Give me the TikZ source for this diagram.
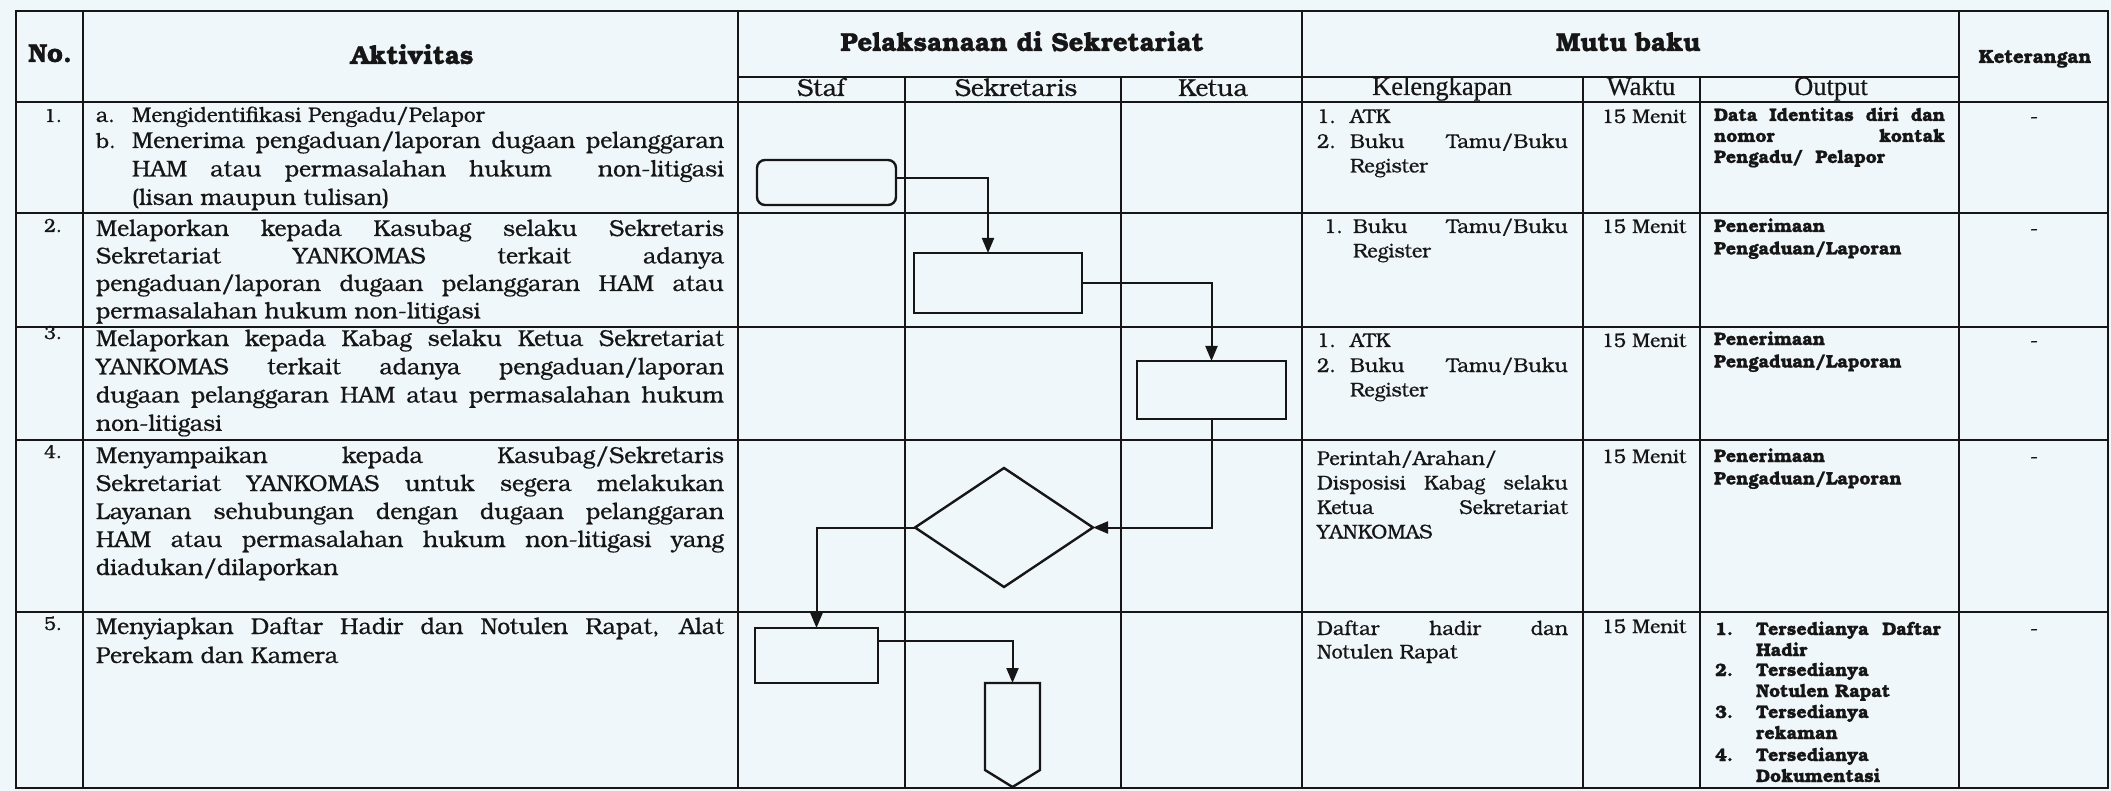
\documentclass[tikz,border=0pt]{standalone}
\usepackage{fontspec}
\setmainfont{texgyrebonum}[Extension=.otf,UprightFont=*-regular,BoldFont=*-bold,ItalicFont=*-italic,BoldItalicFont=*-bolditalic,UprightFeatures={FakeBold=0.6},BoldFeatures={FakeBold=0.8}]
\newfontfamily\timesf{Liberation Serif}[FakeBold=0.4]
\usetikzlibrary{arrows.meta,shapes.geometric}
\definecolor{paper}{RGB}{240,247,251}
\definecolor{ink}{RGB}{22,22,22}
\newcommand{\fsz}[2]{\fontsize{#1}{#2}\selectfont}
\newcommand{\jl}[2]{\makebox[#1][s]{#2}}
\begin{document}
\begin{tikzpicture}[x=1pt,y=-1pt,
  every node/.style={inner sep=0pt,outer sep=0pt,text=ink},
  lt/.style={anchor=base west},
  hd/.style={anchor=base,font=\bfseries\fsz{26}{30}},
  sh/.style={anchor=base,font=\fsz{24.5}{28}},
  shn/.style={anchor=base,font=\timesf\fsz{26.5}{30}},
  body/.style={anchor=base west,font=\fsz{23}{28}},
  lbl/.style={anchor=base west,font=\fsz{21}{24}},
  num/.style={anchor=base,font=\fsz{19}{22}},
  kel/.style={anchor=base west,font=\fsz{20}{24.5}},
  wak/.style={anchor=base,font=\fsz{19.5}{24}},
  outp/.style={anchor=base west,font=\bfseries\fsz{18}{21}},
  ket/.style={anchor=base,font=\fsz{20}{24}},
  tline/.style={draw=ink,line width=1.8pt},
  fshape/.style={draw=ink,line width=2.4pt,inner sep=0pt},
  flow/.style={draw=ink,line width=2pt,-{Triangle[length=15pt,width=12pt]}},
]
\fill[paper] (0,0) rectangle (2111,791);
\useasboundingbox (0,0) rectangle (2111,791);

% table grid
\draw[tline] (16,11) rectangle (2108,788);
\foreach \yy in {102,213,327,440,612} \draw[tline] (16,\yy) -- (2108,\yy);
\draw[tline] (738,77) -- (1959,77);
\foreach \xx in {83,738,1302,1959} \draw[tline] (\xx,11) -- (\xx,788);
\foreach \xx in {905,1121,1583,1700} \draw[tline] (\xx,77) -- (\xx,788);

% headers
\node[hd] (hno) at (50,62) {No.};
\node[hd] (hakt) at (412,64) {Aktivitas};
\node[hd] (hpel) at (1022,51) {Pelaksanaan di Sekretariat};
\node[hd] (hmutu) at (1628,51) {Mutu baku};
\node[anchor=base,font=\bfseries\fsz{19}{22}] (hket) at (2035,63) {Keterangan};
\node[sh] (hstaf) at (821,96) {Staf};
\node[sh] (hsek) at (1016,96) {Sekretaris};
\node[sh] (hketua) at (1213,96) {Ketua};
\node[shn] (hkel) at (1442,95) {Kelengkapan};
\node[shn] (hwak) at (1641,95) {Waktu};
\node[shn] (hout) at (1831,95) {Output};

% numbers
\node[num] (n1) at (53,122) {1.};
\node[num] (n2) at (53,232) {2.};
\node[num] (n3) at (53,339) {3.};
\node[num] (n4) at (53,458) {4.};
\node[num] (n5) at (53,630) {5.};

% Aktivitas
\node[lbl] (a1) at (96,122) {a.};
\node[lbl] (a1t) at (132,122) {Mengidentifikasi Pengadu/Pelapor};
\node[lbl] (b1) at (96,148) {b.};
\node[body,font=\fsz{23}{28.5}] (b1t) at (132,148) {\parbox[t]{592pt}{\jl{592pt}{Menerima pengaduan/laporan dugaan pelanggaran}\\\jl{592pt}{HAM atau permasalahan hukum\ \ non-litigasi}\\(lisan maupun tulisan)}};
\node[body,font=\fsz{23}{27.5}] (t2) at (96,236) {\parbox[t]{628pt}{\jl{628pt}{Melaporkan kepada Kasubag selaku Sekretaris}\\\jl{628pt}{Sekretariat YANKOMAS terkait adanya}\\\jl{628pt}{pengaduan/laporan dugaan pelanggaran HAM atau}\\permasalahan hukum non-litigasi}};
\node[body,font=\fsz{23}{28.3}] (t3) at (96,346) {\parbox[t]{628pt}{\jl{628pt}{Melaporkan kepada Kabag selaku Ketua Sekretariat}\\\jl{628pt}{YANKOMAS terkait adanya pengaduan/laporan}\\\jl{628pt}{dugaan pelanggaran HAM atau permasalahan hukum}\\non-litigasi}};
\node[body,font=\fsz{23}{28}] (t4) at (96,463) {\parbox[t]{628pt}{\jl{628pt}{Menyampaikan kepada Kasubag/Sekretaris}\\\jl{628pt}{Sekretariat YANKOMAS untuk segera melakukan}\\\jl{628pt}{Layanan sehubungan dengan dugaan pelanggaran}\\\jl{628pt}{HAM atau permasalahan hukum non-litigasi yang}\\diadukan/dilaporkan}};
\node[body,font=\fsz{23}{29}] (t5) at (96,634) {\parbox[t]{628pt}{\jl{628pt}{Menyiapkan Daftar Hadir dan Notulen Rapat, Alat}\\Perekam dan Kamera}};

% Kelengkapan
\node[kel] (k1a) at (1317,123) {1.};
\node[kel] (k1b) at (1350,123) {ATK};
\node[kel] (k1c) at (1317,148) {2.};
\node[kel] (k1d) at (1350,148) {\parbox[t]{218pt}{\jl{218pt}{Buku Tamu/Buku}\\Register}};
\node[kel] (k2a) at (1324,233) {1.};
\node[kel] (k2b) at (1353,233) {\parbox[t]{215pt}{\jl{215pt}{Buku Tamu/Buku}\\Register}};
\node[kel] (k3a) at (1317,347) {1.};
\node[kel] (k3b) at (1350,347) {ATK};
\node[kel] (k3c) at (1317,372) {2.};
\node[kel] (k3d) at (1350,372) {\parbox[t]{218pt}{\jl{218pt}{Buku Tamu/Buku}\\Register}};
\node[kel] (k4) at (1317,465) {\parbox[t]{251pt}{Perintah/Arahan/\\\jl{251pt}{Disposisi Kabag selaku}\\\jl{251pt}{Ketua Sekretariat}\\YANKOMAS}};
\node[kel,font=\fsz{20}{23.5}] (k5) at (1317,635) {\parbox[t]{251pt}{\jl{251pt}{Daftar hadir dan}\\Notulen Rapat}};

% Waktu
\node[wak] (w1) at (1644,123) {15 Menit};
\node[wak] (w2) at (1644,233) {15 Menit};
\node[wak] (w3) at (1644,347) {15 Menit};
\node[wak] (w4) at (1644,463) {15 Menit};
\node[wak] (w5) at (1644,633) {15 Menit};

% Output
\node[outp] (o1) at (1714,121) {\parbox[t]{231pt}{\jl{231pt}{Data Identitas diri dan}\\\jl{231pt}{nomor kontak}\\Pengadu/\ \ Pelapor}};
\node[outp,font=\bfseries\fsz{18}{22.5}] (o2) at (1714,232) {\parbox[t]{231pt}{Penerimaan\\Pengaduan/Laporan}};
\node[outp,font=\bfseries\fsz{18}{22.5}] (o3) at (1714,345) {\parbox[t]{231pt}{Penerimaan\\Pengaduan/Laporan}};
\node[outp,font=\bfseries\fsz{18}{22.5}] (o4) at (1714,462) {\parbox[t]{231pt}{Penerimaan\\Pengaduan/Laporan}};
\node[outp] (o5a) at (1715,635) {1.};
\node[outp] (o5b) at (1756,635) {\parbox[t]{185pt}{\jl{185pt}{Tersedianya Daftar}\\Hadir}};
\node[outp] (o5c) at (1715,676) {2.};
\node[outp] (o5d) at (1756,676) {\parbox[t]{185pt}{Tersedianya\\Notulen Rapat}};
\node[outp] (o5e) at (1715,718) {3.};
\node[outp] (o5f) at (1756,718) {\parbox[t]{185pt}{Tersedianya\\rekaman}};
\node[outp] (o5g) at (1715,761) {4.};
\node[outp] (o5h) at (1756,761) {\parbox[t]{185pt}{Tersedianya\\Dokumentasi}};

% Keterangan
\node[ket] (x1) at (2034,123) {-};
\node[ket] (x2) at (2034,235) {-};
\node[ket] (x3) at (2034,347) {-};
\node[ket] (x4) at (2034,463) {-};
\node[ket] (x5) at (2034,635) {-};

% flowchart
\node[fshape,rounded corners=8pt,minimum width=139pt,minimum height=45pt] (rr) at (826.5,182.5) {};
\node[fshape,minimum width=168pt,minimum height=60pt] (sek) at (998,283) {};
\node[fshape,minimum width=149pt,minimum height=58pt] (ket) at (1211.5,390) {};
\node[fshape,diamond,minimum width=178pt,minimum height=119pt] (dia) at (1004,527.5) {};
\node[fshape,minimum width=123pt,minimum height=55pt] (st5) at (816.5,655.5) {};
\coordinate (pt) at (1012.5,683);
\draw[fshape,line join=miter] (985,683) -- (1040,683) -- (1040,770) -- (1012.5,787) -- (985,770) -- cycle;

\draw[flow] ([yshift=4.5pt]rr.east) -| ([xshift=-10pt]sek.north);
\draw[flow] (sek.east) -| (ket.north);
\draw[flow] (ket.south) |- (dia.east);
\draw[flow] (dia.west) -| (st5.north);
\draw[flow] ([yshift=15pt]st5.east) -| (pt);
\end{tikzpicture}
\end{document}
